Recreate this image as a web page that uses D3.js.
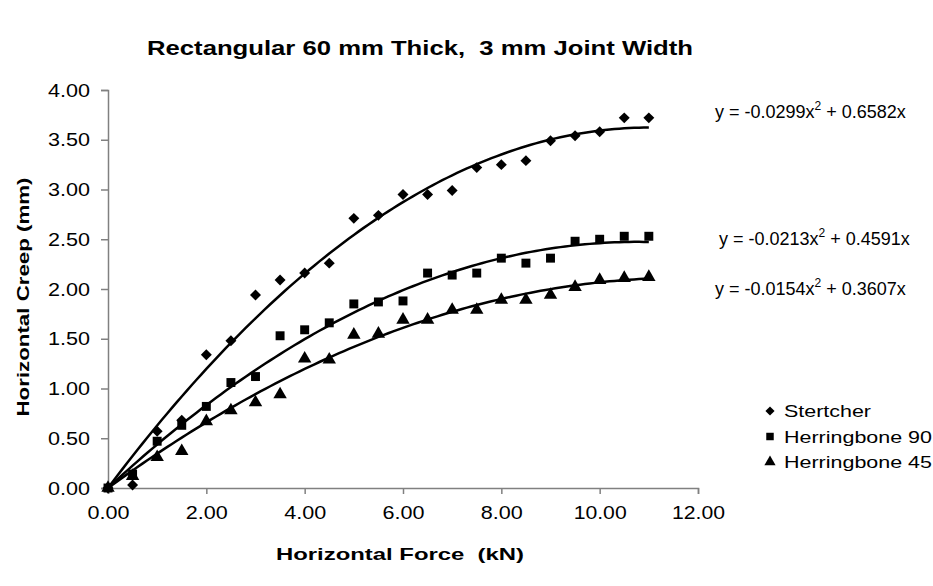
<!DOCTYPE html>
<html>
<head>
<meta charset="utf-8">
<script src="https://cdn.jsdelivr.net/npm/d3@7"></script>
<style>
  body { margin: 0; background: #fff; }
  text { font-family: "Liberation Sans", Arial, sans-serif; }
</style>
</head>
<body>
<svg id="chart" width="933" height="586"></svg>
<script>
// measured loads (kN)
var force = [0, 0.5, 1, 1.5, 2, 2.5, 3, 3.5, 4, 4.5, 5, 5.5, 6, 6.5, 7, 7.5, 8, 8.5, 9, 9.5, 10, 10.5, 11];

// creep readings (mm)
var stertcher = [0, 0.03, 0.57, 0.68, 1.34, 1.48, 1.94, 2.09, 2.16, 2.26, 2.71, 2.74, 2.95, 2.95, 2.99, 3.22, 3.25, 3.29, 3.49, 3.54, 3.58, 3.72, 3.72];
var herring90 = [0, 0.14, 0.47, 0.63, 0.82, 1.06, 1.12, 1.53, 1.59, 1.66, 1.85, 1.87, 1.88, 2.16, 2.14, 2.16, 2.31, 2.26, 2.31, 2.48, 2.50, 2.53, 2.53];
var herring45 = [0, 0.12, 0.31, 0.37, 0.67, 0.78, 0.86, 0.94, 1.30, 1.29, 1.54, 1.55, 1.69, 1.69, 1.79, 1.79, 1.89, 1.89, 1.94, 2.02, 2.09, 2.11, 2.12];

var seriesNames = ["Stertcher", "Herringbone 90", "Herringbone 45"];
// trendline coefficients y = a x^2 + b x
var coefA = [-0.0299, -0.0213, -0.0154];
var coefB = [0.6582, 0.4591, 0.3607];
var eqLabels = ["y = -0.0299x|2| + 0.6582x", "y = -0.0213x|2| + 0.4591x", "y = -0.0154x|2| + 0.3607x"];

var xTicks = [0, 2, 4, 6, 8, 10, 12];
var yTicks = [0, 0.5, 1, 1.5, 2, 2.5, 3, 3.5, 4];

var svg = d3.select("#chart");

var x = d3.scaleLinear().domain([0, 12]).range([108, 698]);
var y = d3.scaleLinear().domain([0, 4]).range([488, 90]);

// axes
var xAxis = svg.append("g")
    .attr("transform", "translate(0," + y(0) + ")")
    .call(d3.axisBottom(x).tickValues(xTicks).tickFormat(d3.format(".2f")).tickSize(6).tickSizeOuter(6).tickPadding(12));
var yAxis = svg.append("g")
    .attr("transform", "translate(" + x(0) + ",0)")
    .call(d3.axisLeft(y).tickValues(yTicks).tickFormat(d3.format(".2f")).tickSize(7).tickSizeOuter(7).tickPadding(11));

[xAxis, yAxis].forEach(function (g) {
    g.select(".domain").attr("stroke", "#808080").attr("stroke-width", 1.5);
    g.selectAll(".tick line").attr("stroke", "#808080").attr("stroke-width", 1.5);
    g.selectAll(".tick text")
        .attr("fill", "#000")
        .attr("textLength", function (d) { return d >= 10 ? 53 : 42; })
        .attr("lengthAdjust", "spacingAndGlyphs")
        .style("font-size", "19px")
        .style("font-family", "Liberation Sans, Arial, sans-serif");
});

// trendlines
var line = d3.line()
    .x(function (d) { return x(d[0]); })
    .y(function (d) { return y(d[1]); });

var steps = d3.range(0, 11.0001, 0.1);
coefA.forEach(function (a, i) {
    var pts = steps.map(function (t) { return [t, a * t * t + coefB[i] * t]; });
    svg.append("path")
        .attr("d", line(pts))
        .attr("fill", "none")
        .attr("stroke", "#000")
        .attr("stroke-width", 2.5);
});

// markers
var symbols = [
    { type: d3.symbolSquare, size: 60, rotate: 45 },
    { type: d3.symbolSquare, size: 80, rotate: 0 },
    { type: d3.symbolTriangle, size: 78, rotate: 0 }
];
var allSeries = [stertcher, herring90, herring45];

allSeries.forEach(function (vals, i) {
    var s = symbols[i];
    svg.append("g").selectAll("path")
        .data(vals)
        .enter().append("path")
        .attr("d", d3.symbol().type(s.type).size(s.size))
        .attr("transform", function (d, j) {
            return "translate(" + x(force[j]) + "," + y(d) + ") rotate(" + s.rotate + ")";
        })
        .attr("fill", "#000");
});

// equation labels
var eqPos = [[715, 118], [719, 245], [715, 295]];
eqLabels.forEach(function (lbl, i) {
    var parts = lbl.split("|");
    var t = svg.append("text")
        .attr("x", eqPos[i][0])
        .attr("y", eqPos[i][1])
        .style("font-size", "18px");
    t.append("tspan").text(parts[0]);
    t.append("tspan").attr("dy", -8).style("font-size", "12px").text(parts[1]);
    t.append("tspan").attr("dy", 8).text(parts[2]);
});

// legend
var legendW = [87, 148, 148];
var legend = svg.append("g");
seriesNames.forEach(function (name, i) {
    var ly = 411 + i * 25.5;
    var s = symbols[i];
    legend.append("path")
        .attr("d", d3.symbol().type(s.type).size(s.size * 0.7))
        .attr("transform", "translate(770," + ly + ") rotate(" + s.rotate + ")")
        .attr("fill", "#000");
    legend.append("text")
        .attr("x", 784)
        .attr("y", ly + 6)
        .attr("textLength", legendW[i])
        .attr("lengthAdjust", "spacingAndGlyphs")
        .style("font-size", "17px")
        .text(name);
});

// titles
svg.append("text")
    .attr("x", 420)
    .attr("y", 55)
    .attr("text-anchor", "middle")
    .attr("textLength", 546)
    .attr("lengthAdjust", "spacingAndGlyphs")
    .style("font-size", "20px")
    .style("font-weight", "bold")
    .style("white-space", "pre")
    .text("Rectangular 60 mm Thick,  3 mm Joint Width");

svg.append("text")
    .attr("x", 400)
    .attr("y", 560)
    .attr("text-anchor", "middle")
    .attr("textLength", 248)
    .attr("lengthAdjust", "spacingAndGlyphs")
    .style("font-size", "17px")
    .style("font-weight", "bold")
    .style("white-space", "pre")
    .text("Horizontal Force  (kN)");

svg.append("text")
    .attr("transform", "translate(29,297) rotate(-90)")
    .attr("text-anchor", "middle")
    .attr("textLength", 239)
    .attr("lengthAdjust", "spacingAndGlyphs")
    .style("font-size", "17px")
    .style("font-weight", "bold")
    .text("Horizontal Creep (mm)");
</script>
</body>
</html>
